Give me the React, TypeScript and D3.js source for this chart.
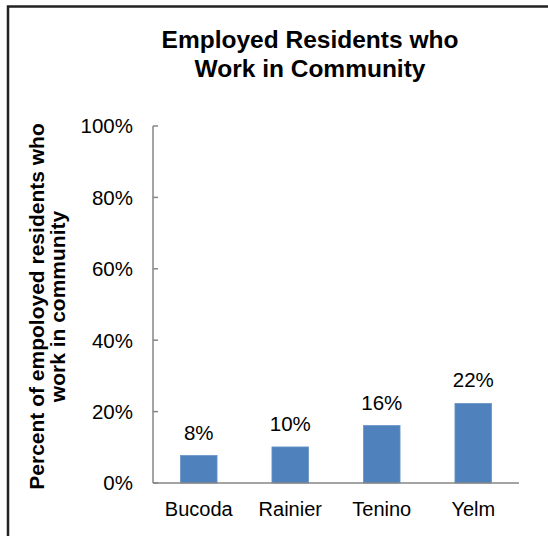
import React from "react";
import * as d3 from "d3";

const categories = ["Bucoda", "Rainier", "Tenino", "Yelm"];
const values = [7.7, 10.1, 16.1, 22.3];
const valueLabels = ["8%", "10%", "16%", "22%"];
const yTicks = [0, 20, 40, 60, 80, 100];
const titleLines = ["Employed Residents who", "Work in Community"];
const yTitleLines = ["Percent of empoloyed residents who", "work in community"];

export default function App() {
  const W = 548, H = 536;
  const left = 153, right = 519, top = 126, bottom = 483;
  const x = d3.scaleBand<string>().domain(categories).range([left, right]).paddingInner(0.6).paddingOuter(0.3);
  const y = d3.scaleLinear().domain([0, 100]).range([bottom, top]);
  const font = "Liberation Sans, Arial, sans-serif";
  const axisColor = "#868686";
  return (
    <svg width={W} height={H} style={{ position: "absolute", left: 0, top: 0 }} fontFamily={font}>
      <rect x={0} y={0} width={W} height={H} fill="#fff" />
      <path d={`M8,${H + 5} V6.5 H${W + 5}`} fill="none" stroke="#222" strokeWidth={2.5} />
      {titleLines.map((t, i) => (
        <text key={t} x={310} y={48 + i * 29} textAnchor="middle" fontSize={24.5} fontWeight="bold" fill="#000">{t}</text>
      ))}
      <g transform={`translate(0,${306.5}) rotate(-90)`}>
        {yTitleLines.map((t, i) => (
          <text key={t} x={0} y={44 + i * 21} textAnchor="middle" fontSize={21} fontWeight="bold" fill="#000">{t}</text>
        ))}
      </g>
      {yTicks.map((t) => (
        <g key={t}>
          <line x1={left} x2={left + 5} y1={y(t)} y2={y(t)} stroke={axisColor} strokeWidth={1.5} />
          <text x={133} y={y(t) + 7.3} textAnchor="end" fontSize={20.5} fill="#000">{t}%</text>
        </g>
      ))}
      {categories.map((c, i) => (
        <g key={c}>
          <rect x={x(c)} y={y(values[i])} width={x.bandwidth()} height={bottom - y(values[i])} fill="#4F81BD" stroke="#6a95c9" strokeWidth={0.8} />
          <text x={(x(c) as number) + x.bandwidth() / 2} y={y(values[i]) - 16} textAnchor="middle" fontSize={20.5} fill="#000">{valueLabels[i]}</text>
          <text x={(x(c) as number) + x.bandwidth() / 2} y={516} textAnchor="middle" fontSize={20} fill="#000">{c}</text>
        </g>
      ))}
      <line x1={left} x2={left} y1={top} y2={bottom} stroke={axisColor} strokeWidth={1.5} />
      <line x1={left} x2={right} y1={bottom} y2={bottom} stroke={axisColor} strokeWidth={1.5} />
    </svg>
  );
}
